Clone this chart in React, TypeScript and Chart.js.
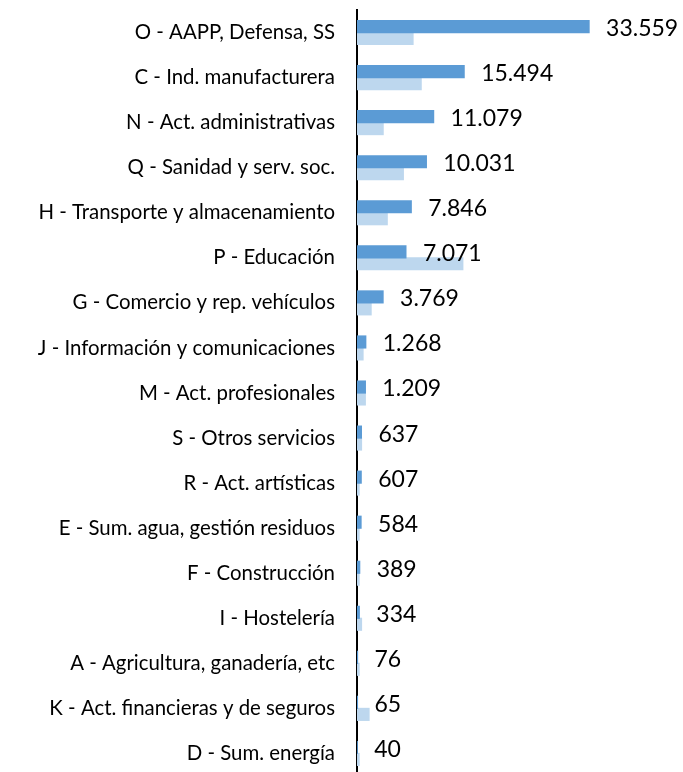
import React, { useEffect, useRef } from "react";
import { Chart, registerables } from "chart.js";

Chart.register(...registerables);

const categories = [
  "O - AAPP, Defensa, SS",
  "C - Ind. manufacturera",
  "N - Act. administrativas",
  "Q - Sanidad y serv. soc.",
  "H - Transporte y almacenamiento",
  "P - Educación",
  "G - Comercio y rep. vehículos",
  "J - Información y comunicaciones",
  "M - Act. profesionales",
  "S - Otros servicios",
  "R - Act. artísticas",
  "E - Sum. agua, gestión residuos",
  "F - Construcción",
  "I - Hostelería",
  "A - Agricultura, ganadería, etc",
  "K - Act. financieras y de seguros",
  "D - Sum. energía",
];

const seriesMain = [33559, 15494, 11079, 10031, 7846, 7071, 3769, 1268, 1209, 637, 607, 584, 389, 334, 76, 65, 40];
const seriesSecondary = [8100, 9280, 3780, 6700, 4370, 15300, 2040, 870, 1200, 650, 300, 300, 300, 650, 300, 1740, 300];

const formatEs = (v: number) => v.toLocaleString("de-DE");

const valueLabels = {
  id: "valueLabels",
  afterDatasetsDraw(chart: any) {
    const ctx = chart.ctx;
    const meta = chart.getDatasetMeta(0);
    ctx.save();
    ctx.font = "23px Lato";
    ctx.fillStyle = "#000";
    ctx.textAlign = "left";
    ctx.textBaseline = "middle";
    meta.data.forEach((bar: any, i: number) => {
      ctx.fillText(formatEs(seriesMain[i]), bar.x + 17, bar.y + 2);
    });
    ctx.restore();
  },
};

export default function App() {
  const ref = useRef<HTMLCanvasElement>(null);
  useEffect(() => {
    if (!ref.current) return;
    const chart = new Chart(ref.current, {
      type: "bar",
      data: {
        labels: categories,
        datasets: [
          {
            data: seriesMain,
            backgroundColor: "#5B9BD5",
            categoryPercentage: 0.53,
            barPercentage: 1,
            inflateAmount: 0.6,
          },
          {
            data: seriesSecondary,
            backgroundColor: "#BDD7EE",
            categoryPercentage: 0.53,
            barPercentage: 1,
            inflateAmount: 0.6,
          },
        ],
      },
      options: {
        indexAxis: "y",
        animation: false,
        responsive: true,
        maintainAspectRatio: false,
        layout: { padding: { top: 2, right: 0, bottom: 0, left: 0 } },
        plugins: {
          legend: { display: false },
          tooltip: { enabled: false },
        },
        scales: {
          x: {
            display: false,
            min: 0,
            max: 47140,
          },
          y: {
            afterFit: (scale: any) => {
              scale.width = 349;
              scale.paddingTop = 0;
              scale.paddingBottom = 0;
            },
            grid: { display: false, drawTicks: false },
            border: { display: true, color: "#000", width: 2 },
            ticks: {
              padding: 22,
              color: "#000",
              font: { family: "Lato", size: 20.4 },
            },
          },
        },
      },
      plugins: [valueLabels],
    });
    return () => chart.destroy();
  }, []);
  return (
    <div style={{ position: "fixed", left: 8, top: 8, width: 675, height: 768 }}>
      <canvas ref={ref} />
    </div>
  );
}
